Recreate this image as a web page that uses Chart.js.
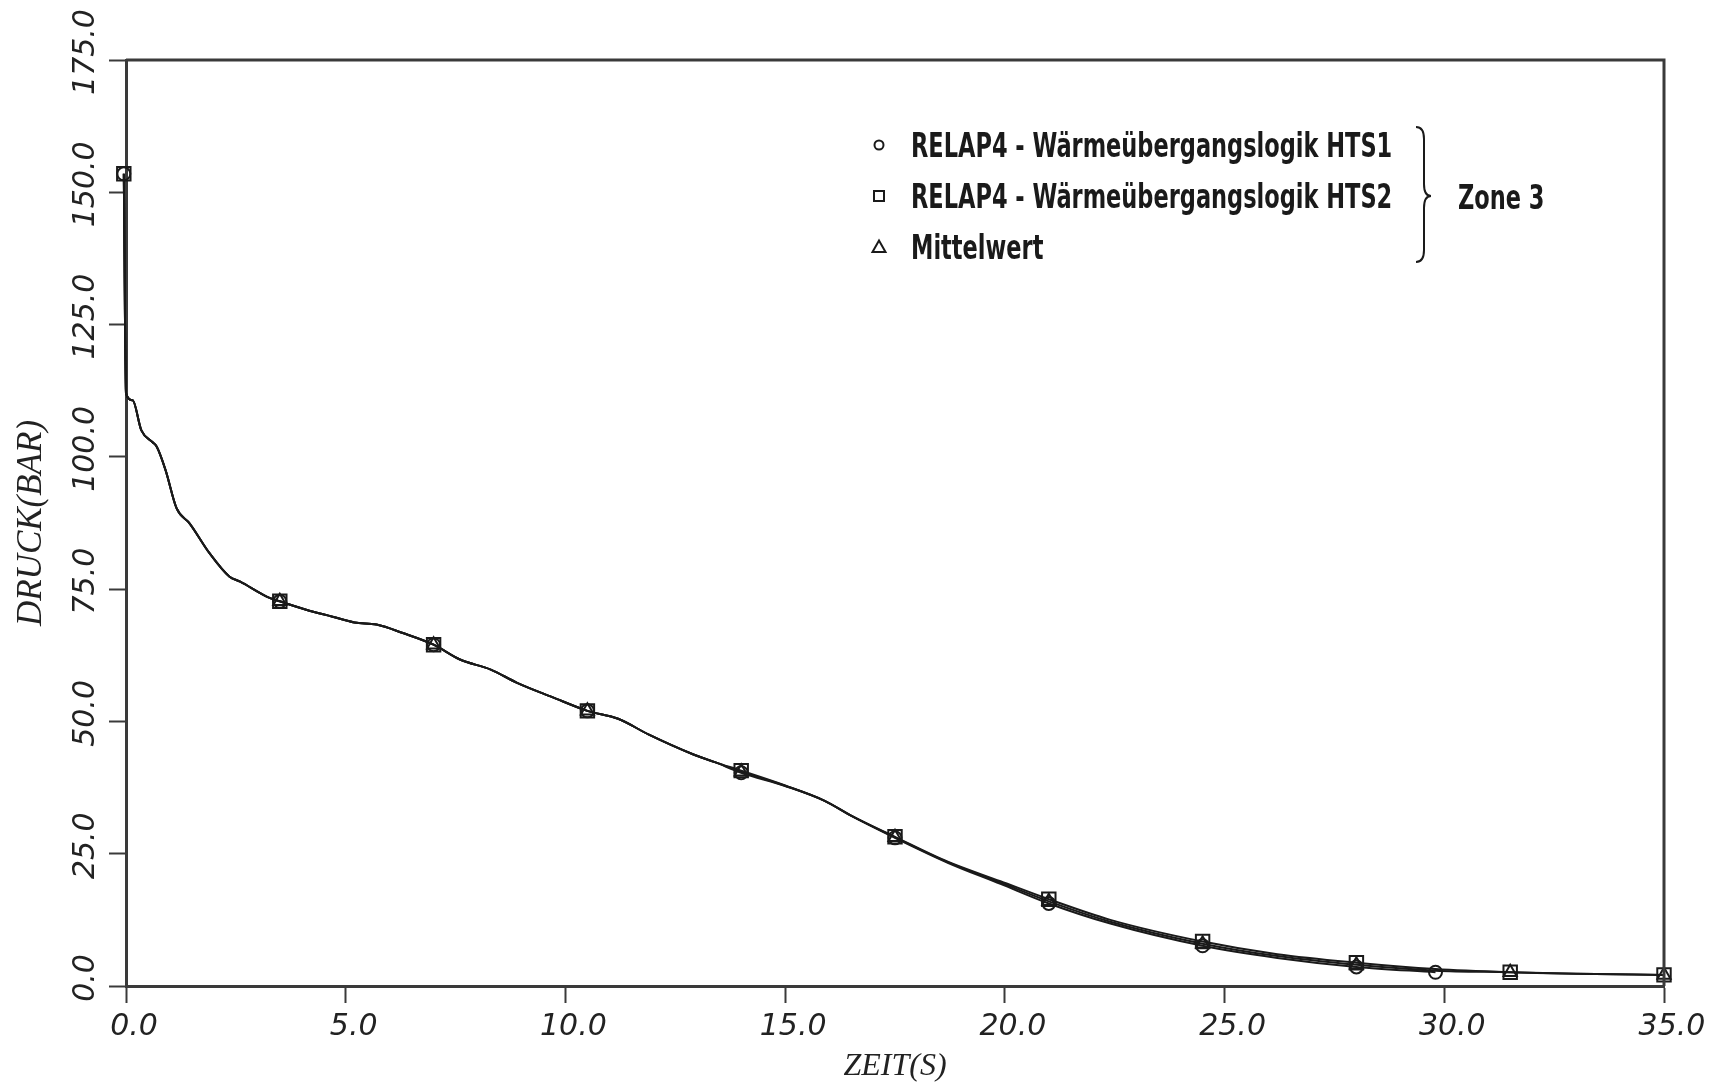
<!DOCTYPE html>
<html>
<head>
<meta charset="utf-8">
<script src="https://cdn.jsdelivr.net/npm/chart.js@4/dist/chart.umd.min.js"></script>
<style>
  html, body { margin: 0; padding: 0; background: #fff; overflow: hidden; }
  #wrap { width: 1719px; height: 1089px; }
</style>
</head>
<body>
<div id="wrap"><canvas id="myChart"></canvas></div>
<script>
// time axis (s) shared by the three curves
const time = [-0.05, 0, 0.15, 0.35, 0.6, 0.7, 0.9, 1.15, 1.45, 1.9, 2.35, 2.6, 3.2, 3.5, 4.1, 4.7,
  5.2, 5.7, 6.3, 7.0, 7.6, 8.3, 8.9, 9.7, 10.5, 11.2, 11.9, 12.9, 13.4, 14.0, 15.0, 15.9, 16.5,
  17.5, 18.7, 19.9, 21.0, 22.4, 24.5, 26.2, 28.0, 29.8, 31.5, 33.0, 35.0];

// pressure (bar)
const hts1 = [153.5, 112.0, 110.7, 105.0, 102.8, 101.9, 97.5, 90.3, 87.4, 81.8, 77.4, 76.4, 73.6, 72.7,
  71.1, 69.8, 68.7, 68.3, 66.7, 64.5, 61.7, 59.8, 57.3, 54.6, 52.0, 50.5, 47.5, 43.8, 42.3, 40.3,
  37.8, 35.0, 32.2, 28.0, 23.3, 19.3, 15.6, 11.8, 7.6, 5.3, 3.6, 2.6];
const hts2 = [153.5, 112.0, 110.7, 105.0, 102.8, 101.9, 97.5, 90.3, 87.4, 81.8, 77.4, 76.4, 73.6, 72.7,
  71.1, 69.8, 68.7, 68.3, 66.7, 64.5, 61.7, 59.8, 57.3, 54.6, 52.0, 50.5, 47.5, 43.8, 42.3, 40.7,
  37.9, 35.0, 32.2, 28.2, 23.5, 19.8, 16.4, 12.5, 8.4, 6.0, 4.4, 3.2, 2.6, 2.3, 2.1];
const mittel = [153.5, 112.0, 110.7, 105.0, 102.8, 101.9, 97.5, 90.3, 87.4, 81.8, 77.4, 76.4, 73.6, 72.7,
  71.1, 69.8, 68.7, 68.3, 66.7, 64.5, 61.7, 59.8, 57.3, 54.6, 52.0, 50.5, 47.5, 43.8, 42.3, 40.5,
  37.85, 35.0, 32.2, 28.1, 23.4, 19.55, 16.0, 12.15, 8.0, 5.65, 4.0, 2.9, 2.6, 2.3, 2.1];

// times where a symbol is plotted
const hts1Marks = [-0.05, 3.5, 7.0, 10.5, 14.0, 17.5, 21.0, 24.5, 28.0, 29.8];
const hts2Marks = [-0.05, 3.5, 7.0, 10.5, 14.0, 17.5, 21.0, 24.5, 28.0, 31.5, 35.0];
const mittelMarks = [3.5, 7.0, 10.5, 14.0, 17.5, 21.0, 24.5, 28.0, 31.5, 35.0];

const labels = ['RELAP4 - Wärmeübergangslogik HTS1', 'RELAP4 - Wärmeübergangslogik HTS2', 'Mittelwert'];
const zoneLabel = 'Zone 3';
const xTicks = [0, 5, 10, 15, 20, 25, 30, 35];
const yTicks = [0, 25, 50, 75, 100, 125, 150, 175];

const toXY = (vals) => vals.map((v, i) => ({x: time[i], y: v}));
const markRadius = (marks, r) => (ctx) => (ctx.raw && marks.includes(ctx.raw.x)) ? r : 0;

const ink = '#1a1a1a';
const axisInk = '#3a3a3a';
const tickFont = {family: '"DejaVu Sans", sans-serif', style: 'italic', size: 30};
const legendFamily = '"DejaVu Sans Condensed", "DejaVu Sans", sans-serif';

function series(label, vals, marks, style, r) {
  return {
    label: label,
    data: toXY(vals),
    borderColor: ink,
    borderWidth: 2,
    cubicInterpolationMode: 'monotone',
    clip: false,
    pointStyle: style,
    pointRadius: markRadius(marks, r),
    pointHoverRadius: markRadius(marks, r),
    pointBorderColor: ink,
    pointBorderWidth: 2,
    pointBackgroundColor: 'rgba(255,255,255,0)'
  };
}

function drawSymbol(ctx, style, x, y) {
  ctx.beginPath();
  if (style === 'circle') {
    ctx.arc(x, y, 4.5, 0, Math.PI * 2);
  } else if (style === 'rect') {
    ctx.rect(x - 5, y - 5, 10, 10);
  } else {
    ctx.moveTo(x, y - 6.5);
    ctx.lineTo(x + 6.5, y + 5);
    ctx.lineTo(x - 6.5, y + 5);
    ctx.closePath();
  }
  ctx.stroke();
}

// box frame on top and right, legend in the plot with brace + zone label
const extras = {
  id: 'extras',
  afterDraw(chart) {
    const {ctx, chartArea: a} = chart;
    ctx.save();
    ctx.strokeStyle = axisInk;
    ctx.lineWidth = 3;
    ctx.beginPath();
    ctx.moveTo(a.left, a.top);
    ctx.lineTo(a.right, a.top);
    ctx.lineTo(a.right, a.bottom);
    ctx.stroke();

    // legend rows
    ctx.strokeStyle = ink;
    ctx.fillStyle = ink;
    ctx.lineWidth = 2;
    ctx.font = 'bold 34px ' + legendFamily;
    ctx.textAlign = 'left';
    ctx.textBaseline = 'alphabetic';
    chart.data.datasets.forEach((ds, i) => {
      const y = 145 + i * 51;
      drawSymbol(ctx, ds.pointStyle, 879, y);
      ctx.save();
      ctx.translate(911, y + 12);
      ctx.scale(0.735, 1);
      ctx.fillText(ds.label, 0, 0);
      ctx.restore();
    });

    // brace
    const x0 = 1416, xm = 1424, xp = 1431, yt = 127, yc = 196, yb = 262;
    ctx.beginPath();
    ctx.moveTo(x0, yt);
    ctx.quadraticCurveTo(xm, yt, xm, yt + 12);
    ctx.lineTo(xm, yc - 12);
    ctx.quadraticCurveTo(xm, yc, xp, yc);
    ctx.quadraticCurveTo(xm, yc, xm, yc + 12);
    ctx.lineTo(xm, yb - 12);
    ctx.quadraticCurveTo(xm, yb, x0, yb);
    ctx.stroke();

    ctx.save();
    ctx.translate(1458, 209);
    ctx.scale(0.735, 1);
    ctx.fillText(zoneLabel, 0, 0);
    ctx.restore();
    ctx.restore();
  }
};

new Chart('myChart', {
  type: 'line',
  data: {
    datasets: [
      series(labels[0], hts1, hts1Marks, 'circle', 6.5),
      series(labels[1], hts2, hts2Marks, 'rect', 9.5),
      series(labels[2], mittel, mittelMarks, 'triangle', 7.5)
    ]
  },
  options: {
    responsive: true,
    maintainAspectRatio: false,
    animation: false,
    layout: {padding: {top: 60, right: 55, bottom: 0, left: 0}},
    plugins: {
      tooltip: {enabled: false},
      legend: {display: false}
    },
    scales: {
      x: {
        type: 'linear',
        min: 0,
        max: 35,
        afterBuildTicks: (s) => { s.ticks = xTicks.map(v => ({value: v})); },
        afterFit: (s) => { s.height = 103; },
        border: {display: true, color: axisInk, width: 3},
        grid: {drawOnChartArea: false, drawTicks: true, tickLength: 17, tickWidth: 2, tickColor: axisInk},
        ticks: {
          maxRotation: 0,
          autoSkip: false,
          padding: 6,
          labelOffset: 8,
          color: '#222',
          font: tickFont,
          callback: (v) => Number(v).toFixed(1)
        },
        title: {display: true, text: 'ZEIT(S)', color: '#222',
          font: {family: '"Liberation Serif", serif', style: 'italic', size: 32}, padding: {top: 0, bottom: 3}}
      },
      y: {
        type: 'linear',
        min: 0,
        max: 175,
        afterBuildTicks: (s) => { s.ticks = yTicks.map(v => ({value: v})); },
        afterFit: (s) => { s.width = 126; },
        border: {display: true, color: axisInk, width: 3},
        grid: {drawOnChartArea: false, drawTicks: true, tickLength: 17, tickWidth: 2, tickColor: axisInk},
        ticks: {
          minRotation: 90,
          maxRotation: 90,
          crossAlign: 'center',
          padding: -20,
          labelOffset: -8,
          color: '#222',
          font: tickFont,
          callback: (v) => Number(v).toFixed(1)
        },
        title: {display: true, text: 'DRUCK(BAR)', color: '#222',
          font: {family: '"Liberation Serif", serif', style: 'italic', size: 35}, padding: {top: 11, bottom: 0}}
      }
    }
  },
  plugins: [extras]
});
</script>
</body>
</html>
